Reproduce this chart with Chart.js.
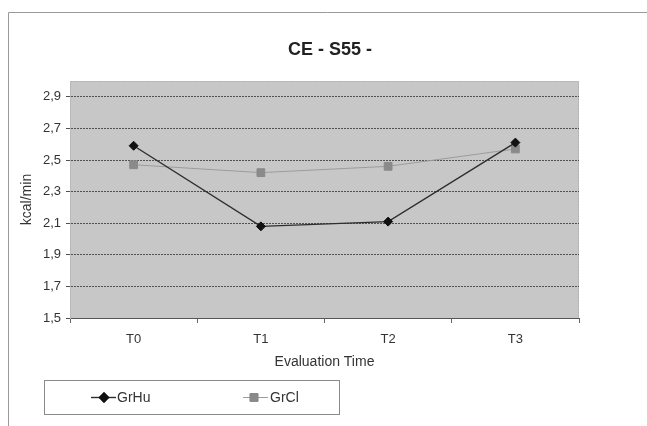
<!DOCTYPE html>
<html>
<head>
<meta charset="utf-8">
<script src="https://cdn.jsdelivr.net/npm/chart.js@4.4.1/dist/chart.umd.min.js"></script>
<style>
  html, body { margin: 0; padding: 0; background: #fff; }
  #wrap { position: relative; width: 647px; height: 426px; }
  canvas { display: block; }
</style>
</head>
<body>
<div id="wrap"><canvas id="c" width="647" height="426"></canvas></div>
<script>
const categories = ['T0', 'T1', 'T2', 'T3'];
const grHu = [2.59, 2.08, 2.11, 2.61];
const grCl = [2.47, 2.42, 2.46, 2.57];
const yTicks = [1.5, 1.7, 1.9, 2.1, 2.3, 2.5, 2.7, 2.9];
const seriesNames = ['GrHu', 'GrCl'];
const chartTitle = 'CE - S55 -';
const xTitle = 'Evaluation Time';
const yTitle = 'kcal/min';

const FONT = '"Liberation Sans", Arial, sans-serif';

const decor = {
  id: 'decor',
  beforeDraw(chart) {
    const { ctx, chartArea: a } = chart;
    ctx.save();
    // outer frame
    ctx.strokeStyle = '#9a9a9a';
    ctx.lineWidth = 1;
    ctx.beginPath();
    ctx.moveTo(8.5, 426);
    ctx.lineTo(8.5, 12.5);
    ctx.lineTo(647, 12.5);
    ctx.stroke();
    // plot background
    ctx.fillStyle = '#c7c7c7';
    ctx.fillRect(a.left, a.top, a.right - a.left, a.bottom - a.top);
    // light plot border top/right
    ctx.strokeStyle = '#b0b0b0';
    ctx.setLineDash([2, 1]);
    ctx.beginPath();
    ctx.moveTo(a.left + 0.5, a.top + 0.5);
    ctx.lineTo(a.right - 0.5, a.top + 0.5);
    ctx.lineTo(a.right - 0.5, a.bottom);
    ctx.stroke();
    ctx.restore();
  },
  afterDraw(chart) {
    const { ctx } = chart;
    ctx.save();
    // chart title
    ctx.fillStyle = '#222';
    ctx.font = 'bold 18px ' + FONT;
    ctx.textAlign = 'center';
    ctx.textBaseline = 'middle';
    ctx.fillText(chartTitle, 330, 50);
    // legend box
    ctx.strokeStyle = '#8a8a8a';
    ctx.lineWidth = 1;
    ctx.strokeRect(44.5, 380.5, 295, 34);
    const y = 397;
    const items = [
      { x0: 91, x1: 116, mx: 104, tx: 117, ds: chart.data.datasets[0] },
      { x0: 243, x1: 268, mx: 254, tx: 270, ds: chart.data.datasets[1] }
    ];
    items.forEach(it => {
      ctx.strokeStyle = it.ds.borderColor;
      ctx.lineWidth = it.ds.borderWidth;
      ctx.beginPath();
      ctx.moveTo(it.x0, y + 0.5);
      ctx.lineTo(it.x1, y + 0.5);
      ctx.stroke();
      Chart.helpers.drawPoint(ctx, {
        pointStyle: it.ds.pointStyle,
        radius: it.ds.pointRadius,
        borderWidth: 1,
        rotation: 0
      }, it.mx, y + 0.5);
      ctx.fillStyle = it.ds.pointBackgroundColor;
      ctx.strokeStyle = it.ds.pointBorderColor;
      ctx.fill();
      ctx.stroke();
      ctx.fillStyle = '#333';
      ctx.font = '14px ' + FONT;
      ctx.textBaseline = 'middle';
      ctx.textAlign = 'left';
      ctx.fillText(it.ds.label, it.tx, y + 1);
    });
    ctx.restore();
  }
};

new Chart(document.getElementById('c'), {
  type: 'line',
  data: {
    labels: categories,
    datasets: [
      {
        label: seriesNames[0],
        data: grHu,
        borderColor: '#2e2e2e',
        borderWidth: 1.4,
        pointStyle: 'rectRot',
        pointRadius: 4.5,
        pointBackgroundColor: '#111',
        pointBorderColor: '#111',
        pointBorderWidth: 1,
        tension: 0,
        order: 1
      },
      {
        label: seriesNames[1],
        data: grCl,
        borderColor: '#9c9c9c',
        borderWidth: 1,
        pointStyle: 'rect',
        pointRadius: 5.5,
        pointBackgroundColor: '#8a8a8a',
        pointBorderColor: '#8a8a8a',
        pointBorderWidth: 1,
        tension: 0,
        order: 2
      }
    ]
  },
  options: {
    responsive: false,
    animation: false,
    devicePixelRatio: 1,
    layout: { padding: { left: 8, right: 68, top: 81, bottom: 52 } },
    plugins: {
      legend: { display: false },
      tooltip: { enabled: false },
      title: { display: false }
    },
    scales: {
      x: {
        offset: true,
        grid: {
          offset: true,
          drawOnChartArea: false,
          drawTicks: true,
          tickLength: 5,
          color: '#666'
        },
        border: { color: '#555', width: 1 },
        ticks: {
          color: '#333',
          font: { family: FONT, size: 13 },
          padding: 9,
          maxRotation: 0
        },
        title: {
          display: true,
          text: xTitle,
          color: '#333',
          font: { family: FONT, size: 14 },
          padding: { top: 0, bottom: 3 }
        },
        afterFit(scale) { scale.height = 56; }
      },
      y: {
        min: 1.5,
        max: 3.0,
        afterBuildTicks(scale) {
          scale.ticks = yTicks.map(v => ({ value: v }));
        },
        grid: {
          color: '#505050',
          lineWidth: 1,
          drawTicks: true,
          tickLength: 4
        },
        border: { color: '#b8b8b8', width: 1, dash: [2, 1] },
        ticks: {
          color: '#333',
          font: { family: FONT, size: 13 },
          padding: 5,
          callback: v => Number(v).toFixed(1).replace('.', ',')
        },
        title: {
          display: true,
          text: yTitle,
          color: '#333',
          font: { family: FONT, size: 14 },
          padding: { top: 11, bottom: 0 }
        },
        afterFit(scale) { scale.width = 62; }
      }
    }
  },
  plugins: [decor]
});
</script>
</body>
</html>
